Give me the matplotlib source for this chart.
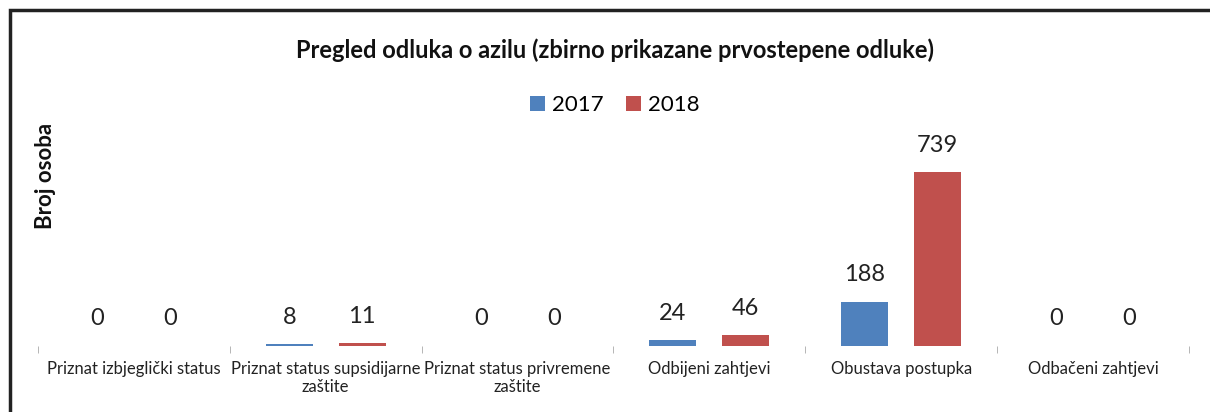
import numpy as np
import matplotlib.pyplot as plt
from matplotlib.patches import Rectangle

categories = ["Priznat izbjeglički status",
              "Priznat status supsidijarne\nzaštite",
              "Priznat status privremene\nzaštite",
              "Odbijeni zahtjevi",
              "Obustava postupka",
              "Odbačeni zahtjevi"]
vals_2017 = [0, 8, 0, 24, 188, 0]
vals_2018 = [0, 11, 0, 46, 739, 0]

blue = "#4F81BD"
red = "#C0504D"

plt.rcParams['font.family'] = ['Lato', 'DejaVu Sans']

fig = plt.figure(figsize=(12.1, 4.12), dpi=100)
ax = fig.add_axes([0.0314, 0.160, 0.9512, 0.4563])

x = np.arange(len(categories))
w = 0.245
off = 0.19
b1 = ax.bar(x - off, vals_2017, w, color=blue, label="2017")
b2 = ax.bar(x + off, vals_2018, w, color=red, label="2018")

for bars, vals in ((b1, vals_2017), (b2, vals_2018)):
    for rect, v in zip(bars, vals):
        ax.annotate(str(v), (rect.get_x() + rect.get_width() / 2, v),
                    xytext=(0, 12), textcoords="offset points",
                    ha="center", va="bottom", fontsize=17, color="#222222",
                    annotation_clip=False)

ax.set_xlim(-0.5, len(categories) - 0.5)
ax.set_ylim(0, 800)
ax.set_yticks([])
for s in ax.spines.values():
    s.set_visible(False)

ax.set_xticks(x)
ax.set_xticklabels(categories, fontsize=12, color="#222222", linespacing=1.1)
ax.tick_params(axis="x", which="major", length=0, pad=11)
ax.set_xticks(np.arange(-0.5, len(categories), 1), minor=True)
ax.tick_params(axis="x", which="minor", length=5, color="#aaaaaa", direction="out")

fig.text(45 / 1210, 1 - 176 / 412, "Broj osoba", rotation=90, ha="center", va="center",
         fontsize=16, fontweight="bold", color="#111111")

fig.text(0.508, 0.878, "Pregled odluka o azilu (zbirno prikazane prvostepene odluke)",
         ha="center", va="center", fontsize=17, fontweight="bold", color="#111111")
fig.legend(handles=[b1, b2], loc="center", bbox_to_anchor=(0.508, 0.745),
           ncol=2, frameon=False, fontsize=16, handlelength=0.7, handleheight=0.7,
           handletextpad=0.3, columnspacing=1.0)

# outer frame
fig.add_artist(Rectangle((10 / 1210, -0.1), 1.2, 1 - 10 / 412 + 0.1,
                         transform=fig.transFigure, fill=False,
                         edgecolor="#222222", linewidth=2.5))

fig.savefig("out.png", dpi=100)
